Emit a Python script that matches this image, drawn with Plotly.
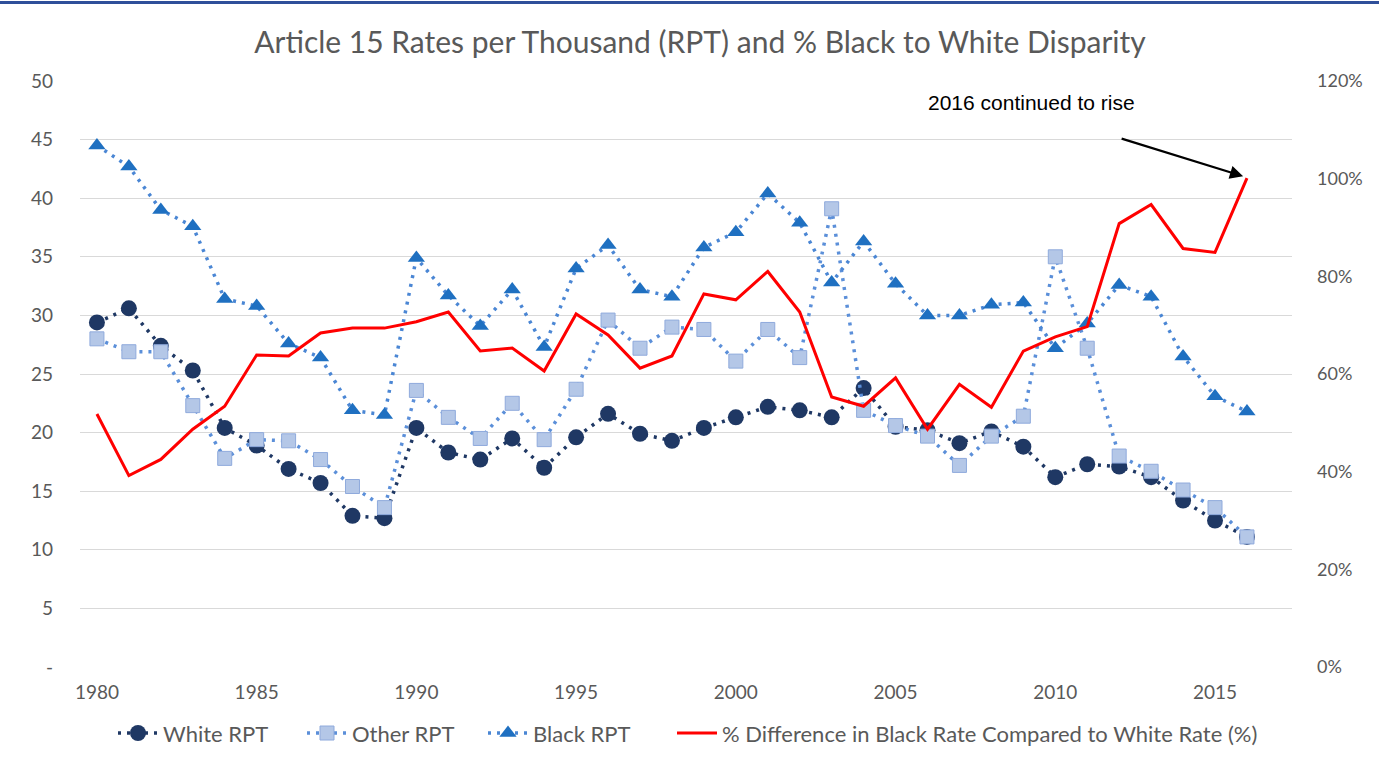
import plotly.graph_objects as go

years = list(range(1980, 2017))

white_rpt = [29.4, 30.6, 27.4, 25.3, 20.4, 18.9, 16.9, 15.7, 12.9, 12.7,
             20.4, 18.3, 17.7, 19.5, 17.0, 19.6, 21.6, 19.9, 19.3, 20.4,
             21.3, 22.2, 21.9, 21.3, 23.8, 20.5, 20.2, 19.1, 20.1, 18.8,
             16.2, 17.3, 17.1, 16.2, 14.2, 12.5, 11.1]

other_rpt = [28.0, 26.9, 26.9, 22.3, 17.8, 19.4, 19.3, 17.7, 15.4, 13.6,
             23.6, 21.3, 19.5, 22.5, 19.4, 23.7, 29.6, 27.2, 29.0, 28.8,
             26.1, 28.8, 26.4, 39.1, 21.9, 20.6, 19.7, 17.2, 19.7, 21.4,
             35.0, 27.2, 18.0, 16.7, 15.1, 13.6, 11.1]

black_rpt = [44.5, 42.7, 39.0, 37.6, 31.4, 30.8, 27.6, 26.4, 21.9, 21.5,
             34.9, 31.7, 29.1, 32.2, 27.3, 34.0, 36.0, 32.2, 31.6, 35.8,
             37.1, 40.4, 37.9, 32.8, 36.3, 32.7, 30.0, 30.0, 30.9, 31.1,
             27.2, 29.3, 32.6, 31.6, 26.5, 23.1, 21.8]

pct_diff = [0.518, 0.392, 0.425, 0.487, 0.534, 0.639, 0.637, 0.684, 0.694, 0.694,
            0.707, 0.727, 0.647, 0.653, 0.606, 0.723, 0.680, 0.612, 0.637, 0.764,
            0.752, 0.810, 0.727, 0.553, 0.534, 0.592, 0.487, 0.579, 0.532, 0.647,
            0.676, 0.697, 0.908, 0.947, 0.857, 0.849, 1.001]

left_ticks = [0, 5, 10, 15, 20, 25, 30, 35, 40, 45, 50]
left_ticktext = ["-", "5", "10", "15", "20", "25", "30", "35", "40", "45", "50"]
x_ticks = [1980, 1985, 1990, 1995, 2000, 2005, 2010, 2015]

FONT = "Lato"
GREY = "#595959"
dots = "3px,6px"

L, R, T, B = 80, 87, 81, 91
PW = 1379 - L - R


def px_to_paper_x(px):
    return (px - L) / PW


fig = go.Figure()

fig.add_trace(go.Scatter(
    x=years, y=white_rpt, name="White RPT", mode="lines+markers",
    line=dict(color="#1F3864", width=3.5, dash=dots),
    marker=dict(symbol="circle", size=16, color="#1F3864"),
    legend="legend",
))
fig.add_trace(go.Scatter(
    x=years, y=other_rpt, name="Other RPT", mode="lines+markers",
    line=dict(color="#5B8FD9", width=3.5, dash=dots),
    marker=dict(symbol="square", size=14, color="#B4C7E7",
                line=dict(color="#8FAADC", width=1)),
    legend="legend2",
))
fig.add_trace(go.Scatter(
    x=years, y=black_rpt, name="Black RPT", mode="lines+markers",
    line=dict(color="#4A86D4", width=3.5, dash=dots),
    marker=dict(symbol="triangle-up", size=15, color="#1F70C1"),
    legend="legend3",
))
fig.add_trace(go.Scatter(
    x=years, y=pct_diff, name="% Difference in Black Rate Compared to White Rate (%)",
    mode="lines", yaxis="y2",
    line=dict(color="#FF0000", width=3),
    legend="legend4",
))

fig.add_annotation(
    x=2015.88, y=1.005, xref="x", yref="y2",
    ax=2012.03, ay=1.083, axref="x", ayref="y2",
    text="", showarrow=True, arrowhead=2, arrowsize=1.2, arrowwidth=2.2,
    arrowcolor="#000000",
)
fig.add_annotation(
    x=2009.24, y=1.155, xref="x", yref="y2",
    text="2016 continued to rise", showarrow=False,
    font=dict(family="Arial", size=21, color="#000000"),
)

# top frame line
fig.add_shape(type="line", xref="paper", yref="paper",
              x0=-0.07, x1=1.08, y0=1.134, y1=1.134,
              line=dict(color="#2F4F9A", width=3))

legend_common = dict(orientation="h", xanchor="left", y=-0.113, yanchor="middle",
                     font=dict(family=FONT, size=22, color=GREY),
                     itemwidth=40, bgcolor="rgba(0,0,0,0)")

fig.update_layout(
    width=1379, height=758,
    margin=dict(l=L, r=R, t=T, b=B, autoexpand=False),
    paper_bgcolor="white", plot_bgcolor="white",
    title=dict(text="Article 15 Rates per Thousand (RPT) and % Black to White Disparity",
               x=700 / 1379, xanchor="center", y=1 - 42 / 758, yanchor="middle",
               font=dict(family=FONT, size=30, color=GREY)),
    xaxis=dict(range=[1979.47, 2017.41], tickvals=x_ticks, showgrid=False,
               zeroline=False, showline=False, ticks="", automargin=False,
               tickfont=dict(family=FONT, size=19, color=GREY),
               ticklabelstandoff=12),
    yaxis=dict(range=[0, 50], tickvals=left_ticks, ticktext=left_ticktext,
               showgrid=True, gridcolor="#D9D9D9", gridwidth=1,
               zeroline=False, showline=False, ticks="", automargin=False,
               tickfont=dict(family=FONT, size=19, color=GREY),
               ticklabelstandoff=26),
    yaxis2=dict(range=[0, 1.2], dtick=0.2, tickformat=".0%", overlaying="y",
                side="right", showgrid=False, zeroline=False, showline=False,
                ticks="", automargin=False,
                tickfont=dict(family=FONT, size=18, color=GREY),
                ticklabelstandoff=24),
    legend=dict(x=px_to_paper_x(113), **legend_common),
    legend2=dict(x=px_to_paper_x(302), **legend_common),
    legend3=dict(x=px_to_paper_x(483), **legend_common),
    legend4=dict(x=px_to_paper_x(672), **legend_common),
    showlegend=True,
)

fig.write_html("out.html", config={"displayModeBar": False},
               post_script="document.body.style.margin='0px';")
